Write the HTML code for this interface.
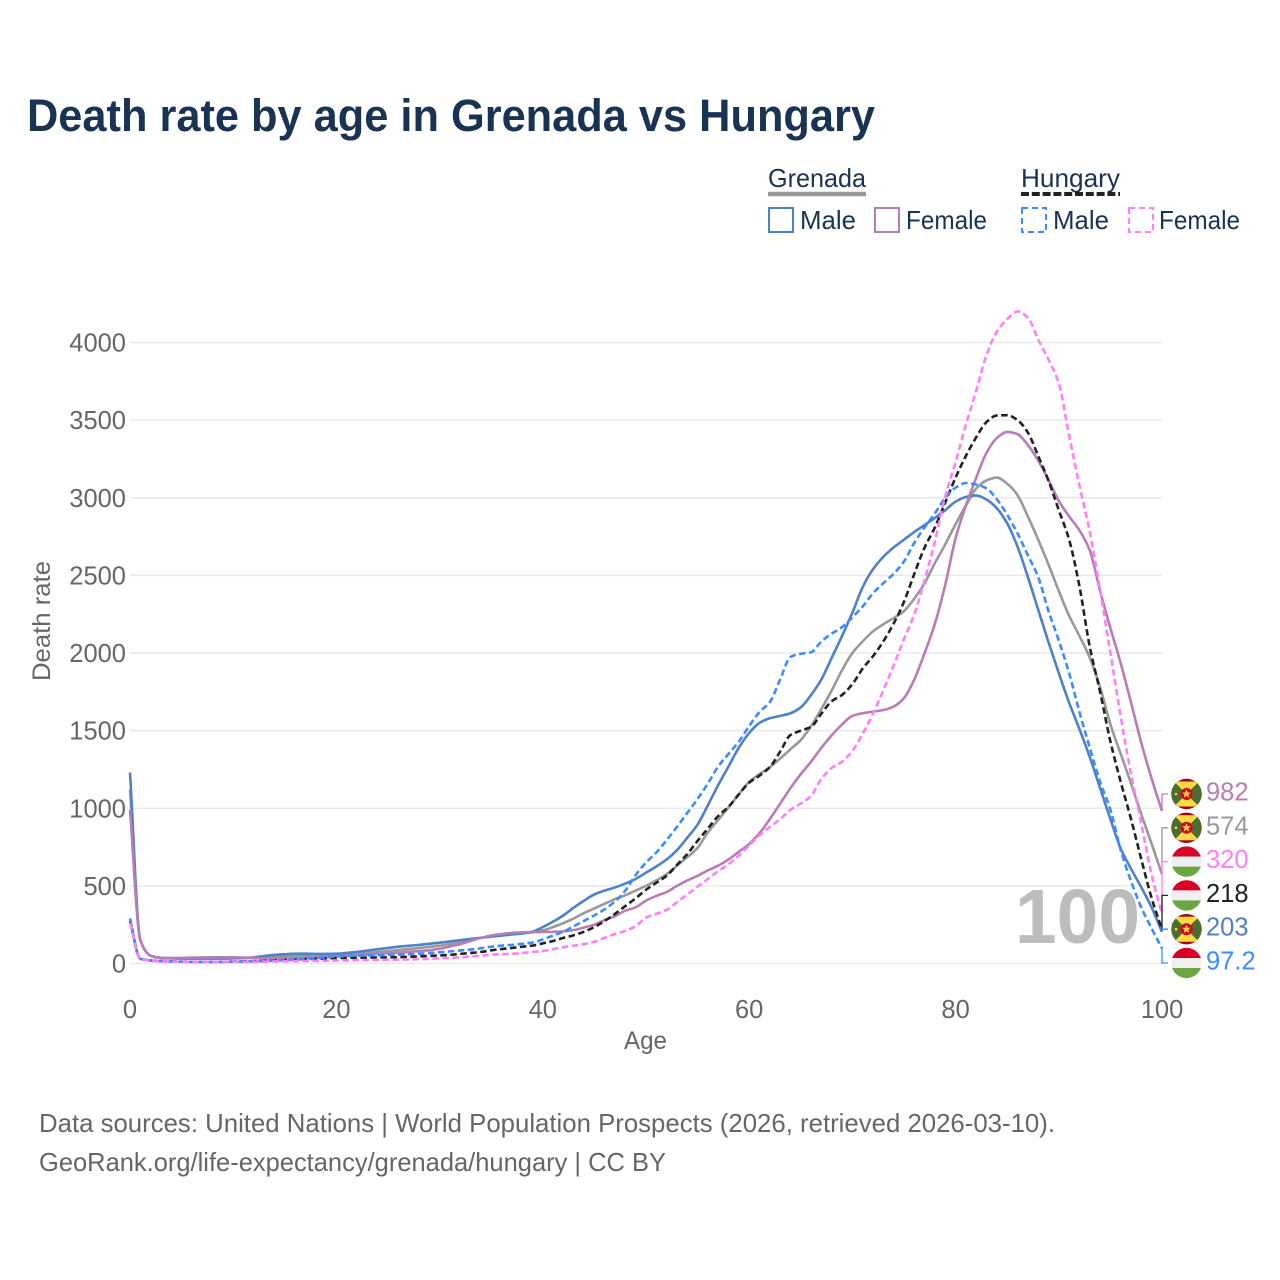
<!DOCTYPE html>
<html lang="en">
<head>
<meta charset="utf-8">
<title>Death rate by age in Grenada vs Hungary</title>
<style>
html,body{margin:0;padding:0;background:#fff;}
svg{display:block;font-family:"Liberation Sans",sans-serif;}
</style>
</head>
<body>
<svg id="chart" xmlns="http://www.w3.org/2000/svg" width="1280" height="1280" viewBox="0 0 1280 1280">
  <rect x="0" y="0" width="1280" height="1280" fill="#fff"/>
  <text x="27" y="131" font-size="45" font-weight="700" fill="#1a3353" textLength="848" lengthAdjust="spacingAndGlyphs">Death rate by age in Grenada vs Hungary</text>

  <g font-size="26" fill="#1a3353">
    <text x="768" y="187" textLength="98" lengthAdjust="spacingAndGlyphs">Grenada</text>
    <line x1="768" x2="866" y1="194" y2="194" stroke="#999" stroke-width="4.5"/>
    <text x="1021" y="187" textLength="99" lengthAdjust="spacingAndGlyphs">Hungary</text>
    <line x1="1021" x2="1120" y1="194" y2="194" stroke="#222" stroke-width="4" stroke-dasharray="8,2.8"/>
    <rect x="769" y="208" width="24" height="24" fill="none" stroke="#4f81c7" stroke-width="2"/>
    <text x="800" y="229" textLength="56" lengthAdjust="spacingAndGlyphs">Male</text>
    <rect x="875" y="208" width="24" height="24" fill="none" stroke="#b87db5" stroke-width="2"/>
    <text x="906" y="229" textLength="81" lengthAdjust="spacingAndGlyphs">Female</text>
    <rect x="1022" y="208" width="24" height="24" fill="none" stroke="#3d8bff" stroke-width="2" stroke-dasharray="6,4"/>
    <text x="1053" y="229" textLength="56" lengthAdjust="spacingAndGlyphs">Male</text>
    <rect x="1129" y="208" width="24" height="24" fill="none" stroke="#ff80f4" stroke-width="2" stroke-dasharray="6,4"/>
    <text x="1159" y="229" textLength="81" lengthAdjust="spacingAndGlyphs">Female</text>
  </g>

  <g id="grid"></g>
  <g id="yticks"></g>
  <g id="xticks"></g>

  <text x="1015" y="943" font-size="77" font-weight="700" fill="#bdbdbd" textLength="125" lengthAdjust="spacingAndGlyphs">100</text>

  <g id="series"></g>
  <g id="endlabels"></g>

  <text transform="translate(50,621) rotate(-90)" text-anchor="middle" font-size="25" fill="#666" textLength="120" lengthAdjust="spacingAndGlyphs">Death rate</text>
  <text x="645.5" y="1049" text-anchor="middle" font-size="25" fill="#666" textLength="43" lengthAdjust="spacingAndGlyphs">Age</text>

  <text x="39" y="1132" font-size="26" fill="#666" textLength="1016" lengthAdjust="spacingAndGlyphs">Data sources: United Nations | World Population Prospects (2026, retrieved 2026-03-10).</text>
  <text x="39" y="1171" font-size="26" fill="#666" textLength="627" lengthAdjust="spacingAndGlyphs">GeoRank.org/life-expectancy/grenada/hungary | CC BY</text>
</svg>

<script>
const grenadaMale = [
1230,150,50,35,33,32,32,32,32,32,
33,35,40,48,55,60,63,63,62,62,
63,68,75,83,92,100,108,114,120,127,
134,142,150,158,166,173,180,187,193,205,
235,270,310,360,405,445,470,490,515,545,
585,625,670,730,810,895,1020,1150,1270,1390,
1485,1550,1580,1595,1612,1650,1730,1830,1970,2110,
2260,2425,2540,2620,2680,2730,2780,2825,2870,2920,
2975,3005,3015,2988,2932,2835,2685,2490,2280,2070,
1870,1680,1510,1330,1130,930,740,610,490,360,
203];
const grenadaFemale = [
990,150,50,37,35,36,38,39,40,40,
40,38,36,34,33,33,34,36,38,41,
45,50,55,58,62,66,70,75,80,86,
95,110,125,145,165,180,190,197,200,202,
203,204,207,215,232,250,280,305,340,362,
405,435,460,500,535,565,600,630,670,720,
770,840,930,1030,1130,1220,1300,1390,1470,1540,
1595,1612,1622,1633,1655,1710,1830,2000,2190,2440,
2740,2950,3130,3290,3385,3424,3410,3340,3240,3115,
2980,2880,2790,2662,2400,2160,1933,1680,1420,1190,
982];
const grenadaTotal = [
1120,150,50,36,34,33,34,34,35,35,
35,35,36,38,42,45,47,48,49,50,
52,57,62,68,74,80,87,93,100,107,
115,125,135,150,165,178,188,194,197,201,
213,235,260,290,325,355,385,415,440,470,
500,535,575,630,685,745,845,925,1005,1090,
1170,1220,1265,1320,1380,1440,1530,1640,1760,1890,
2000,2075,2140,2185,2225,2270,2350,2450,2580,2700,
2830,2950,3060,3112,3130,3090,3017,2880,2730,2570,
2400,2240,2110,1970,1780,1540,1350,1160,960,770,
574];
const hungaryMale = [
290,30,20,15,13,12,11,11,11,11,
12,13,15,17,19,22,25,30,35,40,
45,48,50,52,53,55,57,60,63,67,
72,78,84,90,98,108,115,120,127,135,
155,180,205,240,275,310,350,400,470,570,
650,715,795,880,970,1060,1160,1270,1350,1430,
1530,1620,1684,1830,1975,1995,2005,2075,2125,2167,
2230,2300,2385,2450,2510,2590,2710,2810,2900,3000,
3065,3095,3085,3060,2990,2890,2770,2630,2490,2270,
2080,1870,1620,1390,1170,990,730,530,360,225,
97.2];
const hungaryFemale = [
260,28,18,14,12,11,10,10,10,10,
10,10,11,12,13,14,15,16,17,18,
19,20,21,22,23,24,25,26,28,30,
33,36,40,45,50,57,60,62,68,74,
80,92,105,115,125,140,165,190,210,240,
295,320,345,395,445,495,545,595,640,695,
760,825,880,930,990,1030,1080,1190,1260,1300,
1370,1480,1610,1760,1920,2090,2250,2470,2720,3010,
3230,3470,3690,3920,4070,4150,4200,4160,4020,3890,
3737,3400,3080,2780,2405,2000,1590,1220,900,570,
320];
const hungaryTotal = [
275,30,19,15,13,12,11,11,11,11,
12,13,15,17,19,22,25,28,31,33,
35,36,37,38,39,40,41,43,46,49,
52,56,62,68,74,85,93,100,108,115,
130,145,165,182,205,235,275,320,370,420,
475,520,565,635,705,790,870,950,1010,1090,
1165,1210,1265,1365,1472,1500,1525,1610,1690,1730,
1800,1900,1980,2075,2190,2330,2510,2680,2810,2970,
3130,3270,3390,3488,3530,3532,3500,3420,3270,3110,
2920,2730,2430,2040,1750,1430,1170,930,670,420,
218];
const yTickValues = [0,500,1000,1500,2000,2500,3000,3500,4000];
const xTickValues = [0,20,40,60,80,100];
const endLabelTexts = {grenadaMale:'203',grenadaFemale:'982',grenadaTotal:'574',hungaryMale:'97.2',hungaryFemale:'320',hungaryTotal:'218'};

const NS = 'http://www.w3.org/2000/svg';
function xScale(age){ return 130 + age * 10.32; }
function yScale(v){ return 963.5 - v * 0.15525; }
function make(tag, attrs, parent){
  const el = document.createElementNS(NS, tag);
  for (const k in attrs) el.setAttribute(k, attrs[k]);
  parent.appendChild(el);
  return el;
}
/* Monotone cubic path through the yearly points: no overshoot at sharp bends. */
function monotonePath(values){
  const n = values.length;
  const xs = values.map(function(v,i){ return xScale(i); });
  const ys = values.map(function(v){ return yScale(v); });
  const sl = [];
  for (let i = 0; i < n - 1; i++) sl.push((ys[i+1]-ys[i]) / (xs[i+1]-xs[i]));
  const m = [sl[0]];
  for (let i = 1; i < n - 1; i++) {
    m.push(sl[i-1] * sl[i] <= 0 ? 0 : 2 * sl[i-1] * sl[i] / (sl[i-1] + sl[i]));
  }
  m.push(sl[n-2]);
  let d = 'M' + xs[0].toFixed(2) + ' ' + ys[0].toFixed(2);
  for (let i = 0; i < n - 1; i++) {
    const h = (xs[i+1]-xs[i]) / 3;
    d += 'C' + (xs[i]+h).toFixed(2) + ' ' + (ys[i]+m[i]*h).toFixed(2) + ' ' +
         (xs[i+1]-h).toFixed(2) + ' ' + (ys[i+1]-m[i+1]*h).toFixed(2) + ' ' +
         xs[i+1].toFixed(2) + ' ' + ys[i+1].toFixed(2);
  }
  return d;
}

const gridG = document.getElementById('grid');
const yG = document.getElementById('yticks');
const xG = document.getElementById('xticks');
yTickValues.forEach(function(v){
  const ln = make('line', {x1:xScale(0), x2:xScale(100), y1:yScale(v), y2:yScale(v), stroke:'#e9e9e9', 'stroke-width':1.5}, gridG);
  
  
  const t = make('text', {x:126, y:yScale(v)+9, 'text-anchor':'end', 'font-size':25.5, fill:'#666'}, yG);
  t.textContent = String(v);
  
  
});
xTickValues.forEach(function(v){
  const t = make('text', {x:xScale(v), y:1018, 'text-anchor':'middle', 'font-size':25.5, fill:'#666'}, xG);
  t.textContent = String(v);
  
  
});

const seriesList = [
  {key:'grenadaTotal', values:grenadaTotal, color:'#999999', dash:'', country:'grenada', name:'grenada-total'},
  {key:'grenadaMale', values:grenadaMale, color:'#4f81c7', dash:'', country:'grenada', name:'grenada-male'},
  {key:'grenadaFemale', values:grenadaFemale, color:'#b87db5', dash:'', country:'grenada', name:'grenada-female'},
  {key:'hungaryTotal', values:hungaryTotal, color:'#222222', dash:'6.5,3.5', country:'hungary', name:'hungary-total'},
  {key:'hungaryMale', values:hungaryMale, color:'#3d8bff', dash:'6.5,3.5', country:'hungary', name:'hungary-male'},
  {key:'hungaryFemale', values:hungaryFemale, color:'#ff80f4', dash:'6.5,3.5', country:'hungary', name:'hungary-female'}
];
const seriesG = document.getElementById('series');
seriesList.forEach(function(s){
  const p = make('path', {d:monotonePath(s.values), fill:'none', stroke:s.color, 'stroke-width':2.6, 'stroke-linejoin':'round'}, seriesG);
  if (s.dash) p.setAttribute('stroke-dasharray', s.dash);
  
  
});

function drawFlag(country, cx, cy, parent, idx){
  const g = make('g', {transform:'translate(' + cx + ',' + cy + ')'}, parent);
  
  
  const cid = 'flagclip' + idx;
  const cp = make('clipPath', {id:cid}, g);
  make('circle', {cx:0, cy:0, r:15.2}, cp);
  const inner = make('g', {'clip-path':'url(#' + cid + ')'}, g);
  if (country === 'hungary') {
    make('rect', {x:-16, y:-16, width:32, height:11, fill:'#d80027'}, inner);
    make('rect', {x:-16, y:-5, width:32, height:10, fill:'#f0f0f0'}, inner);
    make('rect', {x:-16, y:5, width:32, height:11, fill:'#6da544'}, inner);
  } else {
    make('rect', {x:-16, y:-16, width:32, height:32, fill:'#a2001d'}, inner);
    make('rect', {x:-16, y:-12.5, width:32, height:25, fill:'#496e2d'}, inner);
    make('polygon', {points:'-12.5,-12.5 12.5,-12.5 0,0', fill:'#ffda44'}, inner);
    make('polygon', {points:'-12.5,12.5 12.5,12.5 0,0', fill:'#ffda44'}, inner);
    make('circle', {cx:0, cy:0, r:6, fill:'#d80027'}, inner);
    make('polygon', {points:'0,-4.6 1.2,-1.5 4.4,-1.4 1.9,0.6 2.8,3.7 0,1.9 -2.8,3.7 -1.9,0.6 -4.4,-1.4 -1.2,-1.5', fill:'#ffda44'}, inner);
    make('circle', {cx:-10.5, cy:0, r:1.3, fill:'#ffda44'}, inner);
  }
}

const labelsG = document.getElementById('endlabels');
const sorted = seriesList.slice().sort(function(a,b){ return b.values[100] - a.values[100]; });
sorted.forEach(function(s,i){
  const slotY = 794 + i * 33.8;
  const endY = yScale(s.values[100]);
  const conn = make('path', {d:'M' + xScale(100) + ' ' + endY.toFixed(2) + 'L' + xScale(100) + ' ' + slotY + 'L1168 ' + slotY, fill:'none', stroke:s.color, 'stroke-width':1.3}, labelsG);
  
  
  drawFlag(s.country, 1186.5, slotY, labelsG, i);
  const t = make('text', {x:1206, y:slotY + 6.5, 'font-size':25.5, fill:s.color}, labelsG);
  t.textContent = endLabelTexts[s.key];
  
  
});
</script>
</body>
</html>
